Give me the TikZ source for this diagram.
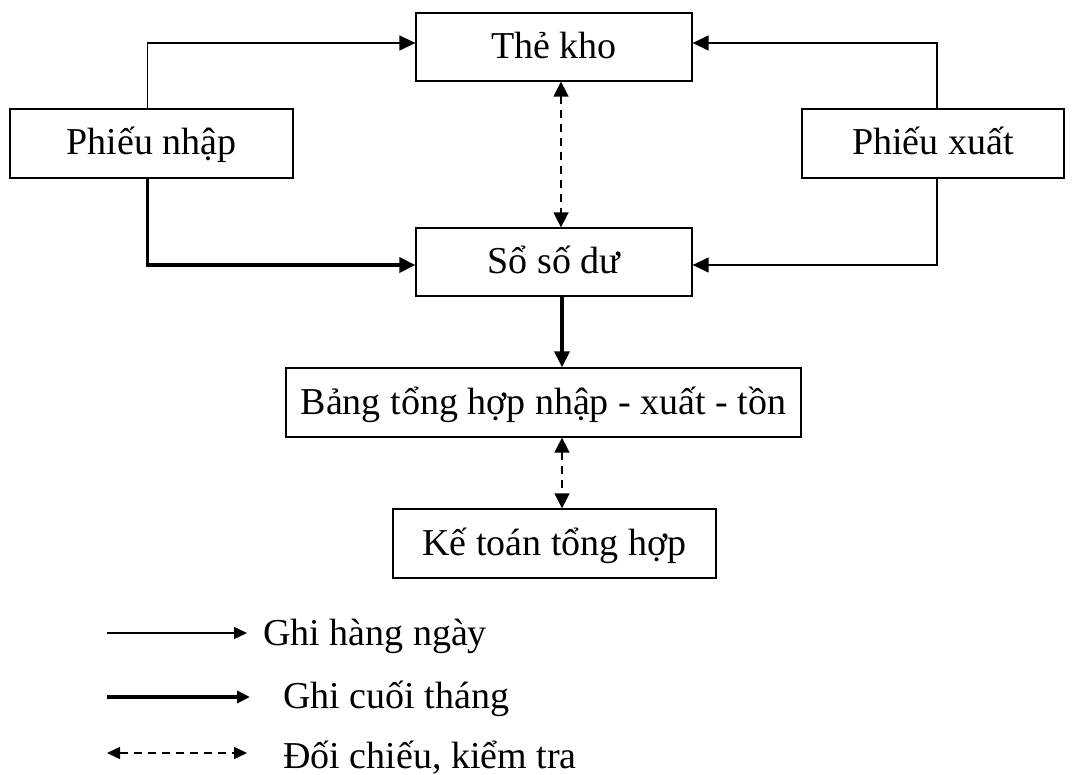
\documentclass[tikz,border=0pt]{standalone}
\usepackage{fontspec}
\setmainfont{Liberation Serif}
\usetikzlibrary{arrows.meta}
\begin{document}
\begin{tikzpicture}[x=1pt,y=-1pt,
  font=\fontsize{38}{44}\selectfont,
  box/.style={draw, line width=1.3pt, inner sep=0pt, rectangle,
    text height=30pt, text depth=7pt},
  tip/.style={Triangle[length=16pt,width=15pt]},
  daily/.style={line width=1.4pt, -{Triangle[length=16pt,width=15pt]}},
  monthly/.style={line width=3.4pt, -{Triangle[length=16pt,width=15pt]}},
  crosscheck/.style={line width=1.6pt, dash pattern=on 8pt off 6pt,
    {Triangle[length=15pt,width=15pt]}-{Triangle[length=15pt,width=15pt]}},
  small tips/.style={arrows={-{Triangle[length=13pt,width=12pt]}}},
  small double tips/.style={arrows={{Triangle[length=13pt,width=12pt]}-{Triangle[length=13pt,width=12pt]}}}]
\useasboundingbox (0,0) rectangle (1087,775);

% boxes
\node[box, minimum width=276pt, minimum height=68pt] (tk)  at (554,47)    {Thẻ kho};
\node[box, minimum width=283pt, minimum height=69pt] (pn)  at (151.5,143.5) {Phiếu nhập};
\node[box, minimum width=262pt, minimum height=69pt] (px)  at (933,143.5)  {Phiếu xuất};
\node[box, minimum width=276pt, minimum height=68pt] (ssd) at (554,262)   {Sổ số dư};
\node[box, minimum width=515pt, minimum height=69pt] (bth) at (543.5,402.5) {Bảng tổng hợp nhập - xuất - tồn};
\node[box, minimum width=323pt, minimum height=69pt] (kt)  at (554.5,543.5) {Kế toán tổng hợp};

% connectors
\draw[daily] ([xshift=-4pt]pn.north) |- ([yshift=4pt]tk.west);
\draw[daily] ([xshift=4pt]px.north) |- ([yshift=4pt]tk.east);
\draw[monthly] ([xshift=-4pt]pn.south) |- ([yshift=-3pt]ssd.west);
\draw[daily] ([xshift=4pt]px.south) |- ([yshift=-3pt]ssd.east);
\draw[crosscheck] ([xshift=7pt]tk.south) -- ([xshift=7pt]ssd.north);
\draw[monthly] ([xshift=8pt]ssd.south) -- ([xshift=8pt]ssd.south |- bth.north);
\draw[crosscheck] ([xshift=8pt]ssd.south |- bth.south) -- ([xshift=8pt]ssd.south |- kt.north);

% legend
\coordinate (la1) at (107,633); \coordinate (lb1) at (247,633);
\coordinate (la2) at (107,697); \coordinate (lb2) at (250,697);
\coordinate (la3) at (107,753); \coordinate (lb3) at (247,753);
\draw[daily, small tips] (la1) -- (lb1);
\draw[monthly, small tips] (la2) -- (lb2);
\draw[crosscheck, small double tips] (la3) -- (lb3);
\node[anchor=base west, inner sep=0pt] (t1) at (263,645) {Ghi hàng ngày};
\node[anchor=base west, inner sep=0pt] (t2) at (283,708) {Ghi cuối tháng};
\node[anchor=base west, inner sep=0pt] (t3) at (283,768) {Đối chiếu, kiểm tra};
\end{tikzpicture}
\end{document}
